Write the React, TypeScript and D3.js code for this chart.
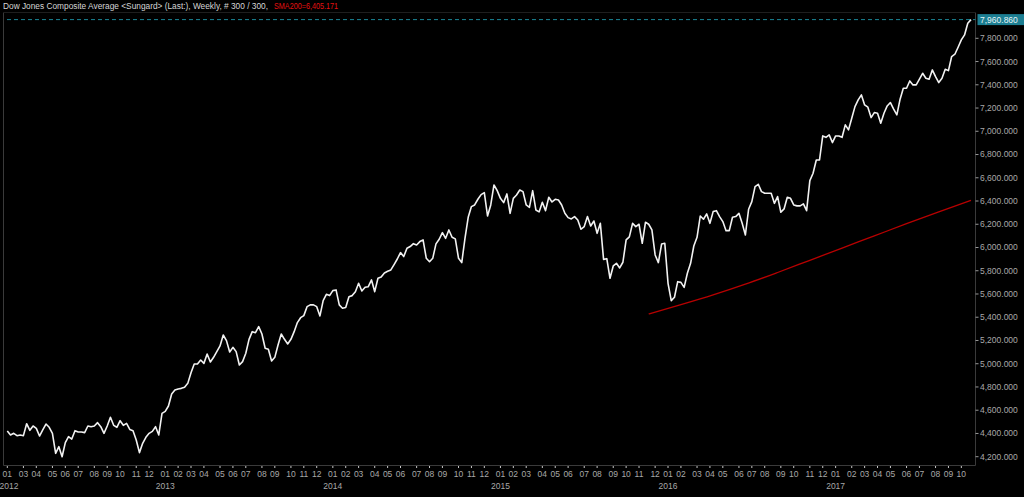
import { useEffect, useRef } from "react";
import * as d3 from "d3";

const WIDTH = 1024;
const HEIGHT = 497;

// weekly closes, first bar is the week of 2012-01-30
const firstWeek = "2012-01-30";

const closes2012 = [
  4421, 4387, 4401, 4381, 4387, 4381, 4484, 4427, 4464, 4444,
  4378, 4430, 4481, 4453, 4401, 4229, 4286, 4200, 4321, 4372,
  4352, 4424, 4413, 4413, 4407, 4464, 4458, 4464, 4493, 4458,
  4401, 4464, 4539, 4470, 4453, 4510, 4470, 4487, 4435, 4424,
  4344, 4235, 4315, 4367, 4401, 4418, 4458, 4387, 4573,
];
const closes2013 = [
  4590, 4636, 4740, 4774, 4783, 4788, 4797, 4831, 4923, 4998,
  4998, 5032, 5003, 5084, 5015, 5055, 5104, 5153, 5247, 5199,
  5101, 5141, 5104, 4989, 5018, 5090, 5210, 5276, 5267, 5319,
  5256, 5133, 5124, 5024, 5055, 5161, 5256, 5210, 5170, 5210,
  5276, 5354, 5396, 5414, 5491, 5506, 5506, 5491, 5411, 5543,
  5597, 5586,
];
const closes2014 = [
  5629, 5635, 5506, 5477, 5483, 5577, 5586, 5620, 5692, 5626,
  5658, 5663, 5721, 5620, 5735, 5746, 5781, 5795, 5807, 5853,
  5901, 5956, 5922, 5993, 6008, 6033, 6022, 6051, 6065, 5907,
  5878, 5907, 6031, 6071, 6128, 6079, 6151, 6088, 6074, 5907,
  5870, 6079, 6260, 6352, 6366, 6415, 6455, 6472, 6271, 6366,
  6538, 6489,
];
const closes2015 = [
  6423, 6386, 6461, 6294, 6423, 6452, 6495, 6481, 6366, 6346,
  6489, 6323, 6306, 6389, 6317, 6432, 6392, 6415, 6409, 6366,
  6294, 6257, 6246, 6266, 6237, 6157, 6180, 6266, 6185, 6228,
  6122, 6208, 5898, 5904, 5735, 5841, 5864, 5824, 5873, 6065,
  6091, 6208, 6180, 6200, 6036, 6217, 6200, 6151, 5936, 5870,
  6030, 6036,
];
const closes2016 = [
  5692, 5543, 5572, 5706, 5700, 5657, 5778, 5864, 6013, 6088,
  6271, 6243, 6289, 6208, 6309, 6317, 6266, 6223, 6145, 6145,
  6260, 6266, 6294, 6208, 6108, 6329, 6395, 6524, 6544, 6481,
  6467, 6467, 6467, 6380, 6438, 6303, 6332, 6432, 6423, 6366,
  6358, 6358, 6375, 6317, 6576, 6639, 6753, 6753, 6960, 6948,
  6969, 6903,
];
const closes2017 = [
  6960, 6960, 6948, 7055, 7012, 7112, 7212, 7270, 7313, 7227,
  7207, 7118, 7161, 7155, 7069, 7155, 7218, 7247, 7190, 7141,
  7276, 7370, 7370, 7433, 7399, 7399, 7448, 7499, 7456, 7448,
  7528, 7471, 7419, 7456, 7534, 7522, 7643, 7663, 7723, 7786,
  7829, 7930, 7960.86,
];

const closes = [
  ...closes2012,
  ...closes2013,
  ...closes2014,
  ...closes2015,
  ...closes2016,
  ...closes2017,
];

// SMA200 readings (bar number -> value)
const smaWeeks = [199, 209, 219, 229, 239, 249, 259, 269, 279, 289, 299];
const smaValues = [
  5428, 5508, 5592, 5684, 5785, 5890, 5995, 6100, 6205, 6307, 6405.171,
];

const yTickValues = [
  4200, 4400, 4600, 4800, 5000, 5200, 5400, 5600, 5800, 6000, 6200, 6400,
  6600, 6800, 7000, 7200, 7400, 7600, 7800,
];
const hiddenMonthTicks = ["2012-02"];

const titleMain =
  "Dow Jones Composite Average <Sungard> (Last:), Weekly, # 300 / 300,";
const titleSma = "SMA200=6,405.171";

const FONT = "'Liberation Sans', Arial, sans-serif";

export default function App() {
  const svgRef = useRef<SVGSVGElement | null>(null);

  useEffect(() => {
    if (!svgRef.current) return;
    const svg = d3.select(svgRef.current);
    svg.selectAll("*").remove();

    const start = d3.timeParse("%Y-%m-%d")(firstWeek) as Date;
    const dates = closes.map((_, i) => d3.timeDay.offset(start, i * 7));

    const frame = { left: 3.5, right: 975.5, top: 12.5, bottom: 465.5 };

    const x = d3
      .scaleTime()
      .domain([dates[0], dates[dates.length - 1]])
      .range([7.3, 971]);
    const y = d3.scaleLinear().domain([4200, 7800]).range([456.7, 38.3]);

    svg
      .append("rect")
      .attr("width", WIDTH)
      .attr("height", HEIGHT)
      .attr("fill", "#000");

    // frame
    svg
      .append("path")
      .attr(
        "d",
        `M${frame.left},${frame.top}V${frame.bottom}H${frame.right}V${frame.top}`,
      )
      .attr("fill", "none")
      .attr("stroke", "#3a3a3a")
      .attr("stroke-width", 1);
    svg
      .append("line")
      .attr("x1", frame.left)
      .attr("x2", frame.right)
      .attr("y1", frame.top)
      .attr("y2", frame.top)
      .attr("stroke", "#1e1e1e");

    // TITLE
    svg
      .append("text")
      .attr("x", 3)
      .attr("y", 9)
      .attr("fill", "#d6d6d6")
      .attr("font-family", FONT)
      .attr("font-size", 8.5)
      .attr("textLength", 265)
      .attr("lengthAdjust", "spacingAndGlyphs")
      .text(titleMain);
    svg
      .append("text")
      .attr("x", 274)
      .attr("y", 9)
      .attr("fill", "#e41010")
      .attr("font-family", FONT)
      .attr("font-size", 8.5)
      .attr("textLength", 64)
      .attr("lengthAdjust", "spacingAndGlyphs")
      .text(titleSma);

    // Y AXIS (right)
    const fmt = d3.format(",.3f");
    const yAxis = svg.append("g");
    yTickValues.forEach((v) => {
      yAxis
        .append("line")
        .attr("x1", frame.right)
        .attr("x2", frame.right + 3)
        .attr("y1", y(v))
        .attr("y2", y(v))
        .attr("stroke", "#9a9a9a");
      yAxis
        .append("text")
        .attr("x", frame.right + 4.5)
        .attr("y", y(v))
        .attr("dy", "0.35em")
        .attr("fill", "#a8a8a8")
        .attr("font-family", FONT)
        .attr("font-size", 8.5)
        .text(fmt(v));
    });

    // X AXIS: one tick on the first bar of each month
    const monthFmt = d3.timeFormat("%m");
    const keyFmt = d3.timeFormat("%Y-%m");
    const xAxis = svg.append("g");
    dates.forEach((d, i) => {
      if (i > 0 && dates[i - 1].getMonth() === d.getMonth()) return;
      if (hiddenMonthTicks.includes(keyFmt(d))) return;
      const px = x(d);
      xAxis
        .append("line")
        .attr("x1", px)
        .attr("x2", px)
        .attr("y1", frame.bottom + 0.5)
        .attr("y2", frame.bottom + 2.5)
        .attr("stroke", "#c8c8c8");
      xAxis
        .append("text")
        .attr("x", px)
        .attr("y", 476.5)
        .attr("text-anchor", "middle")
        .attr("fill", "#a8a8a8")
        .attr("font-family", FONT)
        .attr("font-size", 8.5)
        .text(monthFmt(d));
      if (d.getMonth() === 0) {
        const yearX = Math.max(px, 9);
        xAxis
          .append("text")
          .attr("x", yearX)
          .attr("y", 488.5)
          .attr("text-anchor", "middle")
          .attr("fill", "#a8a8a8")
          .attr("font-family", FONT)
          .attr("font-size", 8.5)
          .text(d.getFullYear());
      }
    });

    // last value marker
    const last = closes[closes.length - 1];
    svg
      .append("line")
      .attr("x1", 7)
      .attr("x2", frame.right)
      .attr("y1", y(last))
      .attr("y2", y(last))
      .attr("stroke", "#1a8596")
      .attr("stroke-dasharray", "4,3");

    // SMA200
    const smaLine = d3
      .line<number>()
      .x((_, i) => x(dates[smaWeeks[i]]))
      .y((v) => y(v))
      .curve(d3.curveMonotoneX);
    svg
      .append("path")
      .datum(smaValues)
      .attr("fill", "none")
      .attr("stroke", "#b80000")
      .attr("stroke-width", 1.3)
      .attr("d", smaLine);

    // PRICE
    const priceLine = d3
      .line<number>()
      .x((_, i) => x(dates[i]))
      .y((v) => y(v));
    svg
      .append("path")
      .datum(closes)
      .attr("fill", "none")
      .attr("stroke", "#f2f2f2")
      .attr("stroke-width", 1.6)
      .attr("stroke-linejoin", "round")
      .attr("d", priceLine);

    svg
      .append("rect")
      .attr("x", frame.right + 2)
      .attr("y", y(last) - 5.5)
      .attr("width", WIDTH - frame.right - 2)
      .attr("height", 11)
      .attr("fill", "#1c7e92");
    svg
      .append("text")
      .attr("x", frame.right + 4.5)
      .attr("y", y(last))
      .attr("dy", "0.35em")
      .attr("fill", "#e6f4f6")
      .attr("font-family", FONT)
      .attr("font-size", 8.5)
      .text(fmt(last));
  }, []);

  return (
    <div
      style={{
        position: "fixed",
        left: 0,
        top: 0,
        width: WIDTH,
        height: HEIGHT,
        background: "#000",
      }}
    >
      <svg ref={svgRef} width={WIDTH} height={HEIGHT} />
    </div>
  );
}
